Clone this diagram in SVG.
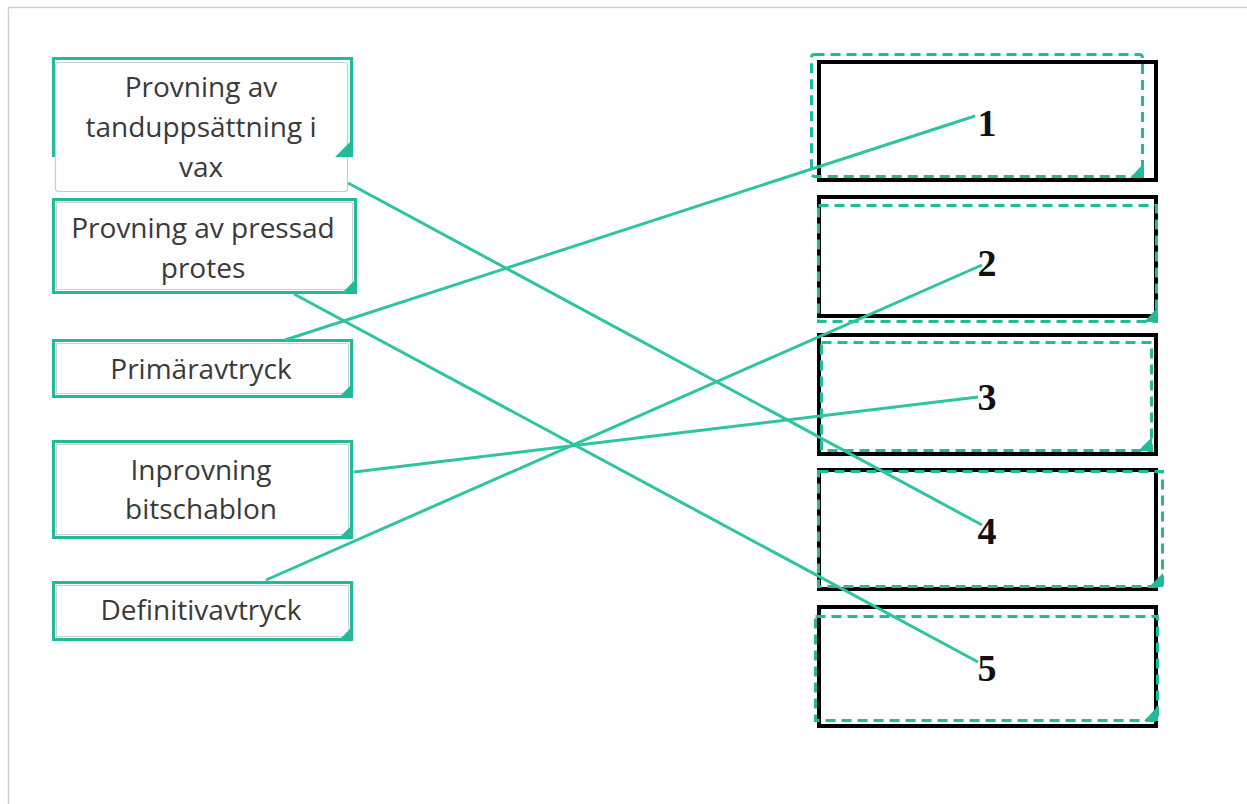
<svg xmlns="http://www.w3.org/2000/svg" width="1247" height="804" viewBox="0 0 1247 804">
<style>
.frame{fill:#fff;stroke:#22bb99;stroke-width:3}
.inner{fill:none;stroke:#d0d0d0;stroke-width:1}
.tri{fill:#22bb99}
.lbl{font-family:"Open Sans",sans-serif;font-size:28px;fill:#3a3a3a;text-anchor:middle}
.tbox{fill:#fff;stroke:#000;stroke-width:4}
.dash{fill:none;stroke:#22bb99;stroke-width:3;stroke-dasharray:10 6}
.num{font-family:"Liberation Serif",serif;font-size:38px;font-weight:bold;fill:#111;text-anchor:middle}
.conn{stroke:#2ec4a0;stroke-width:3;fill:none}
</style>
<rect x="0" y="0" width="1247" height="804" fill="#fff"/>
<path d="M8.5 804 V7.5 H1247" fill="none" stroke="#cfcfcf" stroke-width="1.5"/>

<g id="target1">
<rect class="tbox" x="819" y="62" width="337" height="118"/>
<rect class="dash" x="811.5" y="54.5" width="331" height="122" rx="3"/>
<polygon class="tri" points="1144,163 1144,178 1130,178"/>
<text class="num" x="987" y="136">1</text>
</g>
<g id="target2">
<rect class="tbox" x="819" y="197" width="337" height="119"/>
<rect class="dash" x="818.5" y="205.5" width="338" height="116"/>
<polygon class="tri" points="1158,307 1158,322 1144,322"/>
<text class="num" x="987" y="276">2</text>
</g>
<g id="target3">
<rect class="tbox" x="819" y="335" width="337" height="119"/>
<rect class="dash" x="821.5" y="342.5" width="330" height="108"/>
<polygon class="tri" points="1152,437 1152,451 1138,451"/>
<text class="num" x="987" y="410">3</text>
</g>
<g id="target4">
<rect class="tbox" x="819" y="470" width="337" height="119"/>
<rect class="dash" x="818.5" y="471.5" width="344" height="115"/>
<polygon class="tri" points="1163,573 1163,587 1149,587"/>
<text class="num" x="987" y="544">4</text>
</g>
<g id="target5">
<rect class="tbox" x="819" y="607" width="337" height="119"/>
<rect class="dash" x="815.5" y="616.5" width="342" height="104"/>
<polygon class="tri" points="1158,706 1158,721 1144,721"/>
<text class="num" x="987" y="681">5</text>
</g>

<g id="item1">
<rect class="frame" x="53.5" y="58.5" width="298" height="97"/>
<rect x="55.5" y="62.5" width="292" height="129" rx="3" fill="#fff" stroke="#cccccc" stroke-width="1.2"/>
<polygon class="tri" points="352,140 352,157 335,157"/>
<text class="lbl" x="201" y="97">Provning av</text>
<text class="lbl" x="201" y="137">tanduppsättning i</text>
<text class="lbl" x="201" y="177">vax</text>
</g>
<g id="item2">
<rect class="frame" x="53.5" y="199.5" width="302" height="93"/>
<rect class="inner" x="56.5" y="202.5" width="296" height="87"/>
<polygon class="tri" points="356,279 356,294 341,294"/>
<text class="lbl" x="203" y="238">Provning av pressad</text>
<text class="lbl" x="203" y="278">protes</text>
</g>
<g id="item3">
<rect class="frame" x="53.5" y="340.5" width="298" height="56"/>
<rect class="inner" x="56.5" y="343.5" width="292" height="50"/>
<polygon class="tri" points="352,384 352,398 338,398"/>
<text class="lbl" x="201" y="379">Primäravtryck</text>
</g>
<g id="item4">
<rect class="frame" x="53.5" y="441.5" width="298" height="96"/>
<rect class="inner" x="56.5" y="444.5" width="292" height="90"/>
<polygon class="tri" points="352,525 352,539 338,539"/>
<text class="lbl" x="201" y="480">Inprovning</text>
<text class="lbl" x="201" y="519">bitschablon</text>
</g>
<g id="item5">
<rect class="frame" x="53.5" y="582.5" width="298" height="57"/>
<rect class="inner" x="56.5" y="585.5" width="292" height="51"/>
<polygon class="tri" points="352,627 352,641 338,641"/>
<text class="lbl" x="201" y="620">Definitivavtryck</text>
</g>

<g id="connectors">
<line class="conn" x1="348" y1="183" x2="982" y2="525"/>
<line class="conn" x1="294" y1="294" x2="978" y2="662"/>
<line class="conn" x1="285" y1="340" x2="975" y2="116"/>
<line class="conn" x1="354" y1="472" x2="978" y2="397"/>
<line class="conn" x1="266" y1="580" x2="982" y2="265"/>
</g>
</svg>
